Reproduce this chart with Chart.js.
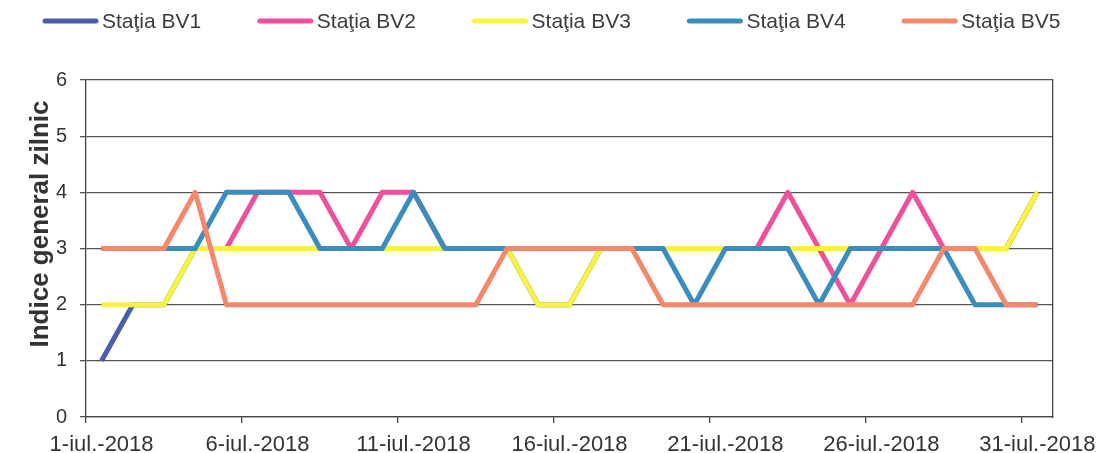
<!DOCTYPE html>
<html>
<head>
<meta charset="utf-8">
<script src="https://cdn.jsdelivr.net/npm/chart.js@4/dist/chart.umd.min.js"></script>
<style>
  html, body { margin: 0; padding: 0; background: #ffffff; }
  #wrap { width: 1101px; height: 453px; position: relative; }
</style>
</head>
<body>
<div id="wrap"><canvas id="c"></canvas></div>
<script>
const categories = [
  '1-iul.-2018','2-iul.-2018','3-iul.-2018','4-iul.-2018','5-iul.-2018',
  '6-iul.-2018','7-iul.-2018','8-iul.-2018','9-iul.-2018','10-iul.-2018',
  '11-iul.-2018','12-iul.-2018','13-iul.-2018','14-iul.-2018','15-iul.-2018',
  '16-iul.-2018','17-iul.-2018','18-iul.-2018','19-iul.-2018','20-iul.-2018',
  '21-iul.-2018','22-iul.-2018','23-iul.-2018','24-iul.-2018','25-iul.-2018',
  '26-iul.-2018','27-iul.-2018','28-iul.-2018','29-iul.-2018','30-iul.-2018',
  '31-iul.-2018'
];
const seriesNames = ['Staţia BV1', 'Staţia BV2', 'Staţia BV3', 'Staţia BV4', 'Staţia BV5'];
const bv1 = [1,2,2,3,3,3,3,3,3,3,3,3,3,3,2,2,3,3,3,3,3,3,3,3,3,3,3,3,3,3,4];
const bv2 = [3,3,3,3,3,4,4,4,3,4,4,3,3,3,3,3,3,3,3,3,3,3,4,3,2,3,4,3,3,3,4];
const bv3 = [2,2,2,3,3,3,3,3,3,3,3,3,3,3,2,2,3,3,3,3,3,3,3,3,3,3,3,3,3,3,4];
const bv4 = [3,3,3,3,4,4,4,3,3,3,4,3,3,3,3,3,3,3,3,2,3,3,3,2,3,3,3,3,2,2,2];
const bv5 = [3,3,3,4,2,2,2,2,2,2,2,2,2,3,3,3,3,3,2,2,2,2,2,2,2,2,2,3,3,2,2];
const yTicks = [0, 1, 2, 3, 4, 5, 6];
const yTitle = 'Indice general zilnic';

const colors = ['#4a5eab', '#f0509b', '#f6f43c', '#3b8dbd', '#f5876a'];
const allSeries = [bv1, bv2, bv3, bv4, bv5];
const FONT = "'Liberation Sans', Arial, sans-serif";

const datasets = allSeries.map((d, i) => ({
  label: seriesNames[i],
  data: d,
  borderColor: colors[i],
  backgroundColor: colors[i],
  borderWidth: 5,
  pointRadius: 0,
  tension: 0,
  fill: false,
  borderJoinStyle: 'round',
  order: allSeries.length - i
}));

const decorPlugin = {
  id: 'decor',
  afterDraw(chart) {
    const ctx = chart.ctx;
    ctx.save();
    // legend
    chart.data.datasets.forEach((ds, i) => {
      const x0 = 43 + i * 214.8;
      const y0 = 21;
      ctx.beginPath();
      ctx.lineCap = 'round';
      ctx.strokeStyle = ds.borderColor;
      ctx.lineWidth = 5;
      ctx.moveTo(x0 + 2, y0);
      ctx.lineTo(x0 + 53, y0);
      ctx.stroke();
      ctx.fillStyle = '#3c3c3c';
      ctx.font = '21px ' + FONT;
      ctx.textAlign = 'left';
      ctx.textBaseline = 'middle';
      ctx.fillText(ds.label, x0 + 59, y0 + 1);
    });
    // y-axis title
    ctx.translate(41, 224);
    ctx.rotate(-Math.PI / 2);
    ctx.fillStyle = '#333333';
    ctx.font = 'bold 26px ' + FONT;
    ctx.textAlign = 'center';
    ctx.textBaseline = 'middle';
    ctx.fillText(yTitle, 0, 0);
    ctx.restore();
  }
};

new Chart(document.getElementById('c'), {
  type: 'line',
  data: { labels: categories, datasets },
  options: {
    responsive: true,
    maintainAspectRatio: false,
    animation: false,
    layout: { padding: { top: 80, left: 0, right: 0, bottom: 0 } },
    plugins: { legend: { display: false }, tooltip: { enabled: false } },
    scales: {
      x: {
        type: 'category',
        offset: true,
        afterFit(scale) { scale.height = 36; },
        grid: {
          offset: true,
          drawOnChartArea: false,
          drawTicks: true,
          tickLength: 6,
          lineWidth: 1.3,
          color: (c) => (c.index % 5 === 0 ? '#444444' : 'rgba(0,0,0,0)')
        },
        border: { display: true, color: '#444444', width: 1.3 },
        ticks: {
          autoSkip: false,
          maxRotation: 0,
          minRotation: 0,
          padding: 3,
          color: '#333333',
          font: { size: 22, family: FONT, lineHeight: 1.7 },
          callback: (v, i) => (i % 5 === 0 ? categories[i] : '')
        }
      },
      y: {
        min: yTicks[0],
        max: yTicks[yTicks.length - 1],
        afterFit(scale) { scale.width = 86; },
        afterBuildTicks(scale) { scale.ticks = yTicks.map(v => ({ value: v })); },
        grid: { color: '#555555', lineWidth: 1.3, tickLength: 6, drawTicks: true },
        border: { display: true, color: '#444444', width: 1.3 },
        ticks: {
          padding: 13,
          color: '#333333',
          font: { size: 20, family: FONT }
        }
      },
      y2: {
        position: 'right',
        display: true,
        min: 0,
        max: 6,
        afterFit(scale) { scale.width = 48; },
        grid: { display: false, drawOnChartArea: false },
        border: { display: true, color: '#444444', width: 1.3 },
        ticks: { display: false }
      }
    }
  },
  plugins: [decorPlugin]
});
</script>
</body>
</html>
